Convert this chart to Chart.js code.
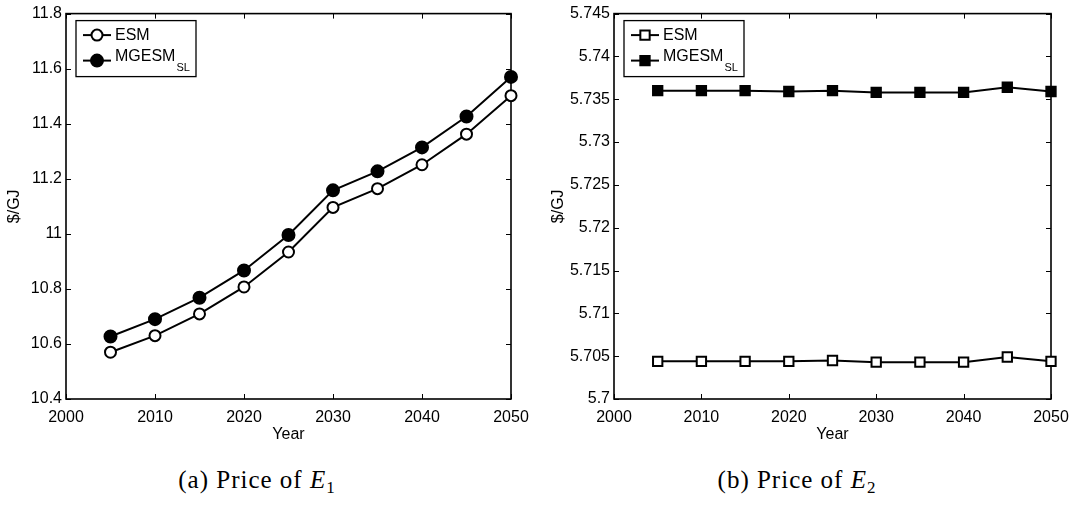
<!DOCTYPE html>
<html>
<head>
<meta charset="utf-8">
<script src="https://cdn.jsdelivr.net/npm/chart.js@4.4.0/dist/chart.umd.min.js"></script>
<style>
  body { margin: 0; background: #fff; width: 1088px; height: 509px; position: relative; overflow: hidden; }
  .wrap { position: absolute; top: 0; width: 544px; height: 450px; }
  .cap { position: absolute; top: 466px; font-family: 'Liberation Serif', serif; font-size: 25px; letter-spacing: 1px; color: #000; white-space: nowrap; transform: translateX(-50%); }
  .cap sub { font-size: 17px; font-style: normal; vertical-align: -5px; line-height: 0; }
</style>
</head>
<body>
<div class="wrap" style="left:0"><canvas id="chartE1"></canvas></div>
<div class="wrap" style="left:544px"><canvas id="chartE2"></canvas></div>
<div class="cap" style="left:257px">(a) Price of <i>E</i><sub>1</sub></div>
<div class="cap" style="left:797px">(b) Price of <i>E</i><sub>2</sub></div>
<script>
const years = [2005, 2010, 2015, 2020, 2025, 2030, 2035, 2040, 2045, 2050];
const e1Esm = [10.570, 10.630, 10.709, 10.807, 10.934, 11.096, 11.164, 11.251, 11.362, 11.502];
const e1Mgesm = [10.627, 10.690, 10.768, 10.867, 10.996, 11.158, 11.227, 11.314, 11.426, 11.570];
const e2Esm = [5.7044, 5.7044, 5.7044, 5.7044, 5.7045, 5.7043, 5.7043, 5.7043, 5.7049, 5.7044];
const e2Mgesm = [5.7360, 5.7360, 5.7360, 5.7359, 5.7360, 5.7358, 5.7358, 5.7358, 5.7364, 5.7359];
const seriesNames = ['ESM', 'MGESM'];
const seriesSubs = ['', 'SL'];
const xTicks = [2000, 2010, 2020, 2030, 2040, 2050];
const e1YTicks = [10.4, 10.6, 10.8, 11, 11.2, 11.4, 11.6, 11.8];
const e2YTicks = [5.7, 5.705, 5.71, 5.715, 5.72, 5.725, 5.73, 5.735, 5.74, 5.745];

const FONT = 'Liberation Sans, Arial, sans-serif';

// MATLAB style box with inward ticks on all four sides
const boxTicks = {
    id: 'boxTicks',
    beforeDatasetsDraw(chart) {
        const {ctx, chartArea: a, scales: {x, y}} = chart;
        ctx.save();
        ctx.strokeStyle = '#000';
        ctx.lineWidth = 1;
        ctx.beginPath();
        x.ticks.forEach(t => {
            const px = Math.round(x.getPixelForValue(t.value)) + 0.5;
            ctx.moveTo(px, a.bottom); ctx.lineTo(px, a.bottom - 5);
            ctx.moveTo(px, a.top); ctx.lineTo(px, a.top + 5);
        });
        y.ticks.forEach(t => {
            const py = Math.round(y.getPixelForValue(t.value)) + 0.5;
            ctx.moveTo(a.left, py); ctx.lineTo(a.left + 5, py);
            ctx.moveTo(a.right, py); ctx.lineTo(a.right - 5, py);
        });
        ctx.stroke();
        ctx.lineWidth = 1.6;
        ctx.strokeRect(a.left, a.top, a.right - a.left, a.bottom - a.top);
        ctx.restore();
    }
};

// legend box with subscript text
const legendBox = {
    id: 'legendBox',
    afterDraw(chart) {
        const {ctx, chartArea: a} = chart;
        const x0 = a.left + 10, y0 = a.top + 7, w = 120, h = 56;
        ctx.save();
        ctx.fillStyle = '#fff';
        ctx.fillRect(x0, y0, w, h);
        ctx.strokeStyle = '#000';
        ctx.lineWidth = 1.3;
        ctx.strokeRect(x0, y0, w, h);
        chart.data.datasets.forEach((ds, i) => {
            const my = y0 + 14.5 + i * 25.5;
            ctx.strokeStyle = '#000';
            ctx.lineWidth = 2;
            ctx.beginPath();
            ctx.moveTo(x0 + 7, my); ctx.lineTo(x0 + 35, my);
            ctx.stroke();
            ctx.fillStyle = ds.pointBackgroundColor;
            ctx.lineWidth = ds.pointBorderWidth;
            Chart.helpers.drawPoint(ctx, {
                pointStyle: ds.pointStyle, radius: ds.pointRadius,
                borderWidth: ds.pointBorderWidth, rotation: 0
            }, x0 + 21, my);
            const ty = i === 0 ? my : my - 4;
            ctx.fillStyle = '#000';
            ctx.textBaseline = 'middle';
            ctx.font = '16px ' + FONT;
            ctx.fillText(ds.label, x0 + 39, ty);
            if (ds.sub) {
                const tw = ctx.measureText(ds.label).width;
                ctx.font = '11px ' + FONT;
                ctx.fillText(ds.sub, x0 + 39 + tw + 1, ty + 11);
            }
        });
        ctx.restore();
    }
};

function makeChart(id, esm, mgesm, style, yTicks, axisWidth, rightPad) {
    const mk = (vals, i, fill) => ({
        label: seriesNames[i],
        sub: seriesSubs[i],
        data: years.map((yr, k) => ({x: yr, y: vals[k]})),
        borderColor: '#000',
        borderWidth: 2,
        tension: 0,
        pointStyle: style,
        pointRadius: style === 'rect' ? 6.6 : (fill ? 6 : 5.5),
        pointBorderWidth: 2,
        pointBorderColor: '#000',
        pointBackgroundColor: fill ? '#000' : '#fff',
        clip: false
    });
    return new Chart(document.getElementById(id), {
        type: 'line',
        data: { datasets: [mk(esm, 0, false), mk(mgesm, 1, true)] },
        options: {
            responsive: true,
            maintainAspectRatio: false,
            animation: false,
            layout: { padding: { top: 10, right: rightPad, bottom: 0, left: 0 } },
            plugins: { legend: { display: false }, tooltip: { enabled: false } },
            scales: {
                x: {
                    type: 'linear',
                    min: xTicks[0], max: xTicks[xTicks.length - 1],
                    afterBuildTicks: s => { s.ticks = xTicks.map(v => ({value: v})); },
                    afterFit: s => { s.height = 51; },
                    grid: { display: false, drawTicks: false },
                    border: { display: false },
                    ticks: { color: '#000', padding: 9, font: { family: FONT, size: 16 }, maxRotation: 0, autoSkip: false,
                        callback: v => String(v) },
                    title: { display: true, text: 'Year', color: '#000', font: { family: FONT, size: 16 }, padding: { top: 0, bottom: 6 } }
                },
                y: {
                    min: yTicks[0], max: yTicks[yTicks.length - 1],
                    afterBuildTicks: s => { s.ticks = yTicks.map(v => ({value: v})); },
                    afterFit: s => { s.width = axisWidth; },
                    grid: { display: false, drawTicks: false },
                    border: { display: false },
                    ticks: { color: '#000', padding: 4, font: { family: FONT, size: 16 }, autoSkip: false,
                        callback: v => String(+v.toFixed(4)) },
                    title: { display: true, text: '$/GJ', color: '#000', font: { family: FONT, size: 16 }, padding: { top: 5, bottom: 0 } }
                }
            }
        },
        plugins: [boxTicks, legendBox]
    });
}

makeChart('chartE1', e1Esm, e1Mgesm, 'circle', e1YTicks, 66, 33);
makeChart('chartE2', e2Esm, e2Mgesm, 'rect', e2YTicks, 70, 37);
</script>
</body>
</html>
